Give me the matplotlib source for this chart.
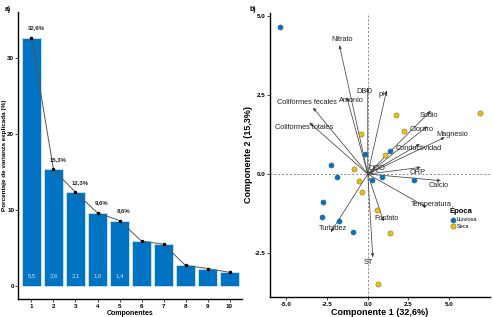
import matplotlib
matplotlib.use("Agg")
from matplotlib import pyplot as plt

# --- a) varianza explicada ---
componentes = [1, 2, 3, 4, 5, 6, 7, 8, 9, 10]
varianza = [32.6, 15.3, 12.3, 9.6, 8.6, 5.9, 5.5, 2.7, 2.3, 1.8]
etiquetas_var = ["32,6%", "15,3%", "12,3%", "9,6%", "8,6%"]
autovalores = ["5,5", "2,6", "2,1", "1,6", "1,4"]

# --- b) biplot ---
lluviosa_x = [-5.38, -0.15, 1.37, -2.25, -1.86, 0.26, 0.90, 2.82, -2.72, -2.80, -1.76, -0.90]
lluviosa_y = [4.65, 0.64, 0.72, 0.27, -0.10, -0.19, -0.10, -0.20, -0.89, -1.36, -1.47, -1.84]
seca_x = [1.74, 6.89, -0.39, 2.25, 1.04, -0.86, -0.53, -0.33, 0.57, 1.35, 0.61]
seca_y = [1.87, 1.92, 1.25, 1.37, 0.59, 0.15, -0.23, -0.58, -1.15, -1.87, -3.48]

variables = ["Nitrato", "DBO", "pH", "Amonio", "Coliformes fecales", "Coliformes totales",
             "Sodio", "Cloruro", "Magnesio", "Conductividad", "ORP", "Calcio",
             "Temperatura", "Fosfato", "Turbidez", "ST", "DQO"]
flecha_x = [-1.74, 0.0, 1.16, -1.29, -3.37, -3.60, 3.88, 3.66, 4.74, 3.21, 3.27, 4.50,
            3.62, 0.98, -2.27, 0.31, 0.40]
flecha_y = [4.07, 2.73, 2.64, 2.43, 2.10, 1.63, 2.00, 1.51, 1.16, 0.95, 0.21, -0.21,
            -1.05, -1.50, -1.84, -2.63, 0.12]
texto_x = [-1.56, -0.20, 0.96, -1.02, -3.74, -3.90, 3.74, 3.31, 5.17, 3.10, 3.07, 4.35,
           3.93, 1.16, -2.11, 0.06, 0.55]
texto_y = [4.23, 2.59, 2.50, 2.31, 2.25, 1.48, 1.85, 1.40, 1.24, 0.81, 0.06, -0.37,
           -0.96, -1.39, -1.72, -2.79, 0.18]

AZUL = "#0073C2"
AMARILLO = "#EFC000"

fig = plt.figure(figsize=(4.93, 3.17), dpi=100)
plt.rcParams['font.family'] = ['Liberation Sans', 'DejaVu Sans']

# ---------------- panel a ----------------
ax1 = fig.add_axes([0.0371, 0.0568, 0.453, 0.906])
ax1.bar(componentes, varianza, width=0.9, color=AZUL, edgecolor="#cfe2f3", linewidth=0.6)
ax1.plot(componentes, varianza, color="#555555", linewidth=0.7, marker="o", markersize=1.5,
         markerfacecolor="black", markeredgecolor="black")
for i, t in enumerate(etiquetas_var):
    ax1.text(componentes[i] + 0.2, varianza[i] + 1.3, t, ha="center", va="center",
             fontsize=4.3, fontweight="bold", color="#222222")
for i, t in enumerate(autovalores):
    ax1.text(componentes[i], 1.35, t, ha="center", va="center", fontsize=4.3,
             color="#cfe0f2")
ax1.set_xlim(0.4, 10.55)
ax1.set_ylim(-1.7, 36)
ax1.set_xticks(componentes)
ax1.set_yticks([0, 10, 20, 30])
ax1.tick_params(labelsize=4.5, length=2, width=0.5, pad=1.5)
ax1.tick_params(axis="y", pad=1)
for lab in ax1.get_xticklabels() + ax1.get_yticklabels():
    lab.set_fontweight("bold")
ax1.set_xlabel("Componentes", fontsize=5, fontweight="bold", labelpad=1)
ax1.set_ylabel("Porcentaje de varianza explicada (%)", fontsize=4.6, fontweight="bold")
ax1.yaxis.set_label_coords(-0.052, 0.5)
for s in ["top", "right"]:
    ax1.spines[s].set_visible(False)
for s in ["left", "bottom"]:
    ax1.spines[s].set_linewidth(1.0)
fig.text(0.010, 0.982, "a)", fontsize=5, fontweight="bold", va="top")

# ---------------- panel b ----------------
ax2 = fig.add_axes([0.5477, 0.064, 0.446, 0.895])
ax2.axhline(0, color="#888888", linestyle=(0, (2, 2)), linewidth=0.7, zorder=1)
ax2.axvline(0, color="#888888", linestyle=(0, (2, 2)), linewidth=0.7, zorder=1)
for i, v in enumerate(variables):
    ax2.annotate("", xy=(flecha_x[i], flecha_y[i]), xytext=(0, 0),
                 arrowprops=dict(arrowstyle="-|>,head_length=0.2,head_width=0.08",
                                 color="#444444", linewidth=0.55, shrinkA=0, shrinkB=0),
                 zorder=2)
    ax2.text(texto_x[i], texto_y[i], v, ha="center", va="center", fontsize=5.3,
             color="#222222", zorder=4)
ax2.scatter(lluviosa_x, lluviosa_y, s=14, color=AZUL, edgecolor="#555555", linewidth=0.3,
            label="Lluviosa", zorder=3)
ax2.scatter(seca_x, seca_y, s=14, color=AMARILLO, edgecolor="#555555", linewidth=0.3,
            label="Seca", zorder=3)
ax2.set_xlim(-6.0, 7.5)
ax2.set_ylim(-3.87, 5.08)
ax2.set_xticks([-5.0, -2.5, 0.0, 2.5, 5.0])
ax2.set_yticks([-2.5, 0.0, 2.5, 5.0])
ax2.set_xticklabels(["-5.0", "-2.5", "0.0", "2.5", "5.0"])
ax2.set_yticklabels(["-2.5", "0.0", "2.5", "5.0"])
ax2.tick_params(labelsize=4.5, length=2, width=0.5, pad=1.5)
for lab in ax2.get_xticklabels() + ax2.get_yticklabels():
    lab.set_fontweight("bold")
ax2.set_xlabel("Componente 1 (32,6%)", fontsize=6.5, fontweight="bold", labelpad=1)
ax2.set_ylabel("Componente 2 (15,3%)", fontsize=6.5, fontweight="bold", labelpad=1)
for s in ["top", "right"]:
    ax2.spines[s].set_visible(False)
for s in ["left", "bottom"]:
    ax2.spines[s].set_linewidth(1.0)
leg = ax2.legend(title="Época", loc="upper left", bbox_to_anchor=(0.80, 0.33), frameon=False,
                 fontsize=4, title_fontsize=5.5, handletextpad=0.2, borderpad=0.2,
                 labelspacing=0.3, handlelength=1.0)
leg.get_title().set_fontweight("bold")
leg._legend_box.align = "left"
fig.text(0.507, 0.982, "b)", fontsize=5, fontweight="bold", va="top")

fig.savefig("out.png", dpi=100)
